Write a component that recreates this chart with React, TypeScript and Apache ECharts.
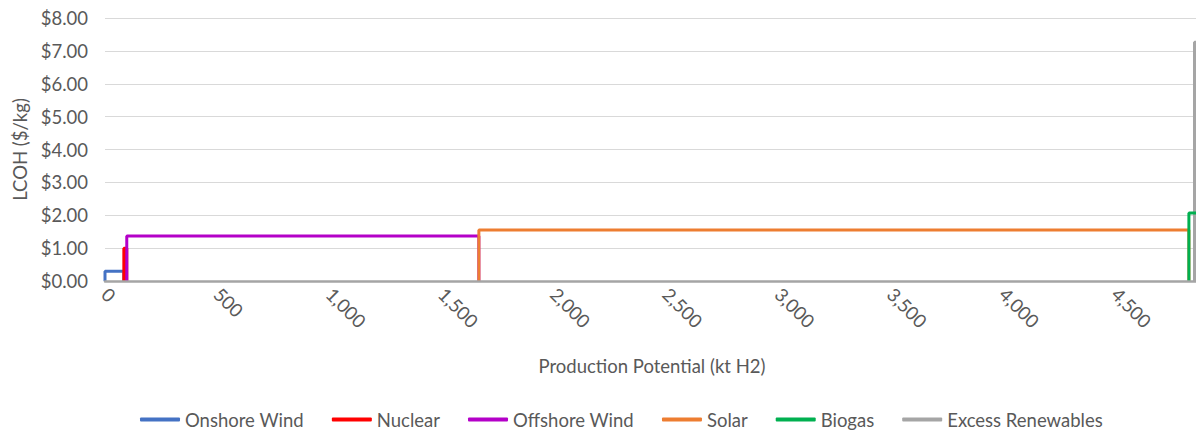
import React, { useEffect, useRef } from "react";
import * as echarts from "echarts";

const techs = ["Onshore Wind", "Nuclear", "Offshore Wind", "Solar", "Biogas", "Excess Renewables"];
const starts = [0, 84, 97, 1666, 4830, 4855];
const ends = [84, 97, 1666, 4830, 4950, 4950];
const costs = [0.3, 1.0, 1.37, 1.55, 2.07, 7.26];
const colors = ["#4472c4", "#ff0000", "#b400c8", "#ed7d31", "#00b050", "#a5a5a5"];
// draw order (later on top)
const drawOrder = [0, 1, 2, 3, 5, 4];
const xTickLabels = ["0", "500", "1,000", "1,500", "2,000", "2,500", "3,000", "3,500", "4,000", "4,500"];

const FONT = "Lato";
const TXT = "#595959";

export default function App() {
  const ref = useRef<HTMLDivElement>(null);
  useEffect(() => {
    if (!ref.current) return;
    const chart = echarts.init(ref.current, undefined, { renderer: "svg" });
    const series = drawOrder.map((i) => ({
      name: techs[i],
      type: "line",
      showSymbol: false,
      symbol: "none",
      color: colors[i],
      lineStyle: { width: 3, color: colors[i] },
      data: [
        [starts[i], 0],
        [starts[i], costs[i]],
        [ends[i], costs[i]],
        [ends[i], 0],
      ],
    }));
    chart.setOption({
      animation: false,
      grid: { left: 105, right: 1, top: 18, bottom: 152, containLabel: false },
      xAxis: {
        type: "value",
        min: 0,
        max: 4875,
        interval: 500,
        z: 5,
        name: "Production Potential (kt H2)",
        nameLocation: "middle",
        nameGap: 75,
        nameTextStyle: { color: TXT, fontFamily: FONT, fontSize: 18.5 },
        axisLine: { show: true, lineStyle: { color: "#a5a5a5", width: 2.5 } },
        axisTick: { show: false },
        splitLine: { show: false },
        axisLabel: {
          rotate: -45,
          margin: 10,
          showMaxLabel: false,
          color: TXT,
          fontFamily: FONT,
          fontSize: 18.5,
          formatter: (v: number) => xTickLabels[Math.round(v / 500)] ?? "",
        },
      },
      yAxis: {
        type: "value",
        min: 0,
        max: 8,
        interval: 1,
        name: "LCOH ($/kg)",
        nameLocation: "middle",
        nameGap: 75,
        nameTextStyle: { color: TXT, fontFamily: FONT, fontSize: 18.5 },
        axisLine: { show: false },
        axisTick: { show: false },
        splitLine: { lineStyle: { color: "#d9d9d9", width: 1 } },
        axisLabel: {
          margin: 17,
          color: TXT,
          fontFamily: FONT,
          fontSize: 18.5,
          formatter: (v: number) => "$" + v.toFixed(2),
        },
      },
      legend: {
        data: techs,
        top: 405,
        left: 135,
        icon: "roundRect",
        itemWidth: 40,
        itemHeight: 4,
        itemGap: 28,
        textStyle: { color: TXT, fontFamily: FONT, fontSize: 18.5 },
      },
      series,
    });
    return () => chart.dispose();
  }, []);
  return (
    <div
      ref={ref}
      style={{ position: "fixed", left: 0, top: 0, width: 1200, height: 433, background: "#fff" }}
    />
  );
}
